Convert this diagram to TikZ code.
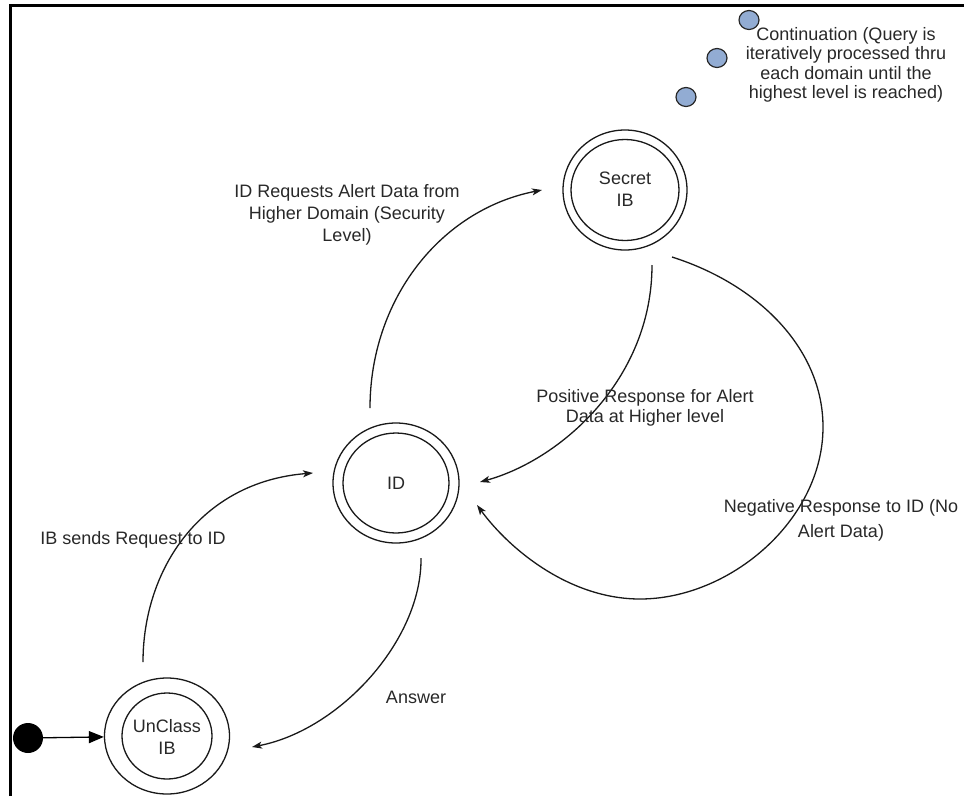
\documentclass[tikz,border=0pt]{standalone}
\usepackage{fontspec}
\setmainfont{Liberation Sans}
\usetikzlibrary{arrows.meta,shapes.geometric}
\definecolor{dotblue}{RGB}{146,172,211}
\definecolor{ink}{RGB}{40,40,40}
\begin{document}
\begin{tikzpicture}[x=1pt,y=-1pt,
  font=\fontsize{18}{21}\selectfont,
  ring/.style={draw=black!90, line width=1.3pt, ellipse, inner sep=0pt},
  lbl/.style={align=center, text=ink, inner sep=0pt},
  flow/.style={draw=black!90, line width=1.3pt,
    -{Stealth[length=10pt,width=7pt,inset=2.5pt]}},
  contdot/.style={ellipse, draw=black!85, line width=1.2pt, fill=dotblue,
    minimum width=20pt, minimum height=19pt, inner sep=0pt}]

\useasboundingbox (0,0) rectangle (964,796);

% page frame (top and left edges)
\draw[line width=3pt] (10,796) -- (10,5.5) -- (964,5.5);

% states
\node[ring, minimum width=124pt, minimum height=120pt] (secretO) at (625,190) {};
\node[ring, minimum width=108pt, minimum height=101pt] (secretI) at (625,190) {};
\node[lbl, font=\fontsize{18}{22}\selectfont] (secret) at (625,189) {Secret\\IB};

\node[ring, minimum width=126pt, minimum height=120pt] (idO) at (396,483) {};
\node[ring, minimum width=106pt, minimum height=100pt] (idI) at (396,483) {};
\node[lbl] (id) at (396,483) {ID};

\node[ring, minimum width=125pt, minimum height=116pt] (unclassO) at (167,736) {};
\node[ring, minimum width=90pt, minimum height=86pt] (unclassI) at (167,736) {};
\node[lbl, font=\fontsize{18}{22}\selectfont] (unclass) at (167,737) {UnClass\\IB};

% initial state
\node[circle, fill=black, minimum size=30pt, inner sep=0pt] (init) at (28,738) {};
\draw[line width=1.3pt, -{Triangle[length=15pt,width=12pt]}] (init) -- (unclassO);

% continuation dots
\node[contdot] (c1) at (749,20) {};
\node[contdot] (c2) at (717,58) {};
\node[contdot] (c3) at (686,97) {};
\node[lbl, font=\fontsize{18}{19.5}\selectfont] (cont) at (846,65)
  {Continuation (Query is\\iteratively processed thru\\each domain until the\\highest level is reached)};

% connector end points
\coordinate (idN)  at (370,408);
\coordinate (secW) at (542,190);
\coordinate (secS) at (652,265);
\coordinate (idE)  at (480,482);
\coordinate (secSE) at (672,257);
\coordinate (negR) at (823,427);
\coordinate (negB) at (640,599);
\coordinate (idSE) at (477,505);
\coordinate (unN)  at (143,662);
\coordinate (idW)  at (313,473);
\coordinate (idS)  at (421,558);
\coordinate (unE)  at (252,747);

% transitions
\draw[flow] (idN) .. controls (370,300) and (440,210) .. (secW);
\draw[flow] (secS) .. controls (652,380) and (560,460) .. (idE);
\draw[flow] (secSE) .. controls (760,285) and (823,350) .. (negR)
  .. controls (823,520) and (730,599) .. (negB)
  .. controls (570,599) and (510,550) .. (idSE);
\draw[flow] (unN) .. controls (143,570) and (200,482) .. (idW);
\draw[flow] (idS) .. controls (422,640) and (340,730) .. (unE);

% transition labels
\node[lbl, font=\fontsize{18}{22}\selectfont] (lreq) at (347,215)
  {ID Requests Alert Data from\\Higher Domain (Security\\Level)};
\node[lbl, font=\fontsize{18}{20}\selectfont] (lpos) at (645,408)
  {Positive Response for Alert\\Data at Higher level};
\node[lbl, font=\fontsize{18}{25}\selectfont] (lneg) at (841,520)
  {Negative Response to ID (No\\Alert Data)};
\node[lbl] (lib) at (133,540) {IB sends Request to ID};
\node[lbl] (lans) at (416,697) {Answer};

\end{tikzpicture}
\end{document}
